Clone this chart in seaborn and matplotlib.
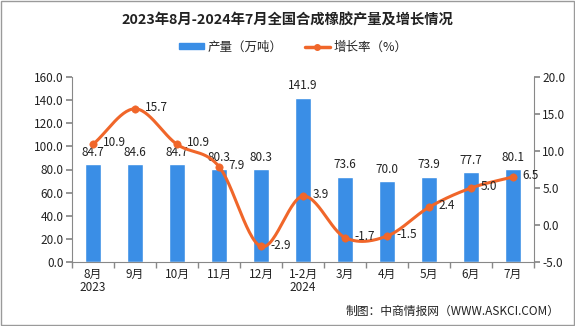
import numpy as np
import pandas as pd
import matplotlib
matplotlib.use("Agg")
import matplotlib.pyplot as plt
import seaborn as sns
from matplotlib.patches import Rectangle, Patch
from matplotlib.lines import Line2D

categories = ["8月\n2023", "9月", "10月", "11月", "12月", "1-2月\n2024", "3月", "4月", "5月", "6月", "7月"]
output = [84.7, 84.6, 84.7, 80.3, 80.3, 141.9, 73.6, 70.0, 73.9, 77.7, 80.1]
growth = [10.9, 15.7, 10.9, 7.9, -2.9, 3.9, -1.7, -1.5, 2.4, 5.0, 6.5]
left_ticks = [0, 20, 40, 60, 80, 100, 120, 140, 160]
right_ticks = [-5, 0, 5, 10, 15, 20]

sns.set_theme(style="white")
plt.rcParams["font.family"] = ["Noto Sans CJK SC", "DejaVu Sans"]
plt.rcParams["axes.unicode_minus"] = False

BAR = "#3A8EE6"
LINE = "#F0662A"
GRAY = "#888888"
TXT = "#222222"

fig = plt.figure(figsize=(5.75, 3.26), dpi=100)
fig.patches.append(Rectangle((0.002, 0.003), 0.996, 0.994, transform=fig.transFigure,
                             fill=False, edgecolor="#9a9a9a", linewidth=1.0))
ax = fig.add_axes([72/575, 1-262/326, (534-72)/575, (262-77)/326])

df = pd.DataFrame({"cat": categories, "output": output, "growth": growth})
sns.barplot(data=df, x="cat", y="output", color=BAR, width=0.38, ax=ax, saturation=1)
ax.set_xlim(-0.5, len(categories) - 0.5)
ax.set_ylim(0, 160)
ax.set_yticks(left_ticks)
ax.set_yticklabels([f"{v:.1f}" for v in left_ticks], fontsize=8.5, color=TXT)
ax.set_xlabel("")
ax.set_ylabel("")
ax.set_xticks(range(len(categories)))
ax.set_xticklabels(categories, fontsize=8.5, color=TXT, linespacing=1.0)
ax.set_xticks(np.arange(-0.5, len(categories), 1), minor=True)
ax.tick_params(axis="x", which="major", length=0, pad=4)
ax.tick_params(axis="x", which="minor", length=4, color=GRAY, direction="out", bottom=True)
ax.tick_params(axis="y", length=4, color=GRAY, direction="out", left=True, pad=2)
for s in ["top", "right"]:
    ax.spines[s].set_visible(False)
for s in ["left", "bottom"]:
    ax.spines[s].set_color(GRAY)
    ax.spines[s].set_linewidth(0.8)

for i, v in enumerate(output):
    ax.annotate(f"{v:.1f}", (i, v), xytext=(0, 4), textcoords="offset points",
                ha="center", va="bottom", fontsize=8.5, color=TXT)

ax2 = ax.twinx()
ax2.set_ylim(-5, 20)
ax2.set_yticks(right_ticks)
ax2.set_yticklabels([f"{v:.1f}" for v in right_ticks], fontsize=8.5, color=TXT)
ax2.tick_params(axis="y", length=4, color=GRAY, direction="out", right=True, pad=2)
for s in ["top", "left", "bottom"]:
    ax2.spines[s].set_visible(False)
ax2.spines["right"].set_color(GRAY)
ax2.spines["right"].set_linewidth(0.8)

# smooth (Catmull-Rom) rendering of the line through the data points
xs = np.arange(len(growth), dtype=float)
ys = np.array(growth, dtype=float)
px = np.concatenate([[2*xs[0]-xs[1]], xs, [2*xs[-1]-xs[-2]]])
py = np.concatenate([[2*ys[0]-ys[1]], ys, [2*ys[-1]-ys[-2]]])
cx, cy = [], []
t = np.linspace(0, 1, 30)
for k in range(1, len(px) - 2):
    p0, p1, p2, p3 = py[k-1], py[k], py[k+1], py[k+2]
    q0, q1, q2, q3 = px[k-1], px[k], px[k+1], px[k+2]
    f = lambda a, b, c, d: 0.5*((2*b) + (-a + c)*t + (2*a - 5*b + 4*c - d)*t**2 + (-a + 3*b - 3*c + d)*t**3)
    cx.append(f(q0, q1, q2, q3)); cy.append(f(p0, p1, p2, p3))
cx = np.concatenate(cx); cy = np.concatenate(cy)
ax2.plot(cx, cy, color=LINE, linewidth=2.2, solid_capstyle="round")
sns.scatterplot(x=xs, y=ys, color=LINE, s=28, edgecolor=LINE, ax=ax2, zorder=5)

for i, v in enumerate(growth):
    ax2.annotate(f"{v:.1f}", (i, v), xytext=(7, 1), textcoords="offset points",
                 ha="left", va="center", fontsize=8.5, color=TXT)

fig.text(287/575, 1-20/326, "2023年8月-2024年7月全国合成橡胶产量及增长情况", ha="center", va="center",
         fontsize=10.3, fontweight="bold", color=TXT)

handles = [Patch(facecolor=BAR, edgecolor=BAR),
           Line2D([0], [0], color=LINE, linewidth=2.5, marker="o", markersize=4)]
fig.legend(handles, ["产量（万吨）", "增长率（%）"], loc="center", bbox_to_anchor=(293/575, 1-47/326),
           ncol=2, frameon=False, fontsize=9, handlelength=2.0, handleheight=0.35,
           columnspacing=1.8, handletextpad=0.3)

fig.text(560/575, 1-311/326, "制图：中商情报网（WWW.ASKCI.COM）", ha="right", va="center",
         fontsize=8.5, color=TXT)

fig.savefig("out.png", dpi=100)
